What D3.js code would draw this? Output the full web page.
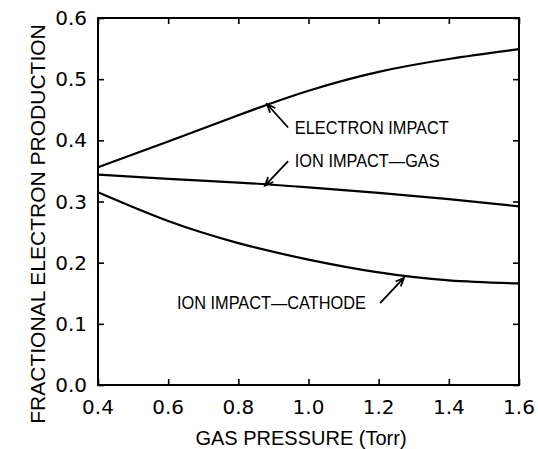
<!DOCTYPE html>
<html>
<head>
<meta charset="utf-8">
<script src="https://cdn.jsdelivr.net/npm/d3@7"></script>
<style>
  body { margin: 0; background: #fff; }
</style>
</head>
<body>
<script>
var width = 538, height = 449;

// values
var pressure = [0.4, 0.6, 0.8, 1.0, 1.2, 1.4, 1.6];
var electronImpact = [0.356, 0.398, 0.441, 0.481, 0.512, 0.533, 0.549];
var ionImpactGas = [0.344, 0.337, 0.331, 0.323, 0.314, 0.304, 0.292];
var ionImpactCathode = [0.315, 0.268, 0.232, 0.205, 0.184, 0.171, 0.166];

var xTicks = [0.4, 0.6, 0.8, 1.0, 1.2, 1.4, 1.6];
var yTicks = [0.0, 0.1, 0.2, 0.3, 0.4, 0.5, 0.6];

// annotation labels, label anchors and arrows (data units)
var labels = ["ELECTRON IMPACT", "ION IMPACT\u2014GAS", "ION IMPACT\u2014CATHODE"];
var labelPos = [[0.961, 0.41], [0.961, 0.357], [0.625, 0.125]];
var arrowTail = [[0.942, 0.421], [0.942, 0.366], [1.204, 0.134]];
var arrowTip = [[0.882, 0.459], [0.876, 0.326], [1.272, 0.175]];

var margin = {left: 98, right: 19, top: 18, bottom: 64};

var svg = d3.select("body")
            .append("svg")
            .attr("width", width)
            .attr("height", height);

var x = d3.scaleLinear()
          .domain([0.4, 1.6])
          .range([margin.left, width - margin.right]);

var y = d3.scaleLinear()
          .domain([0, 0.6])
          .range([height - margin.bottom, margin.top]);

var tickLen = 6;

// inward ticks on all four sides
svg.append("g")
   .attr("transform", "translate(0," + y(0) + ")")
   .call(d3.axisBottom(x).tickValues(xTicks).tickSizeInner(-tickLen).tickSizeOuter(0).tickFormat(""))
   .call(function(g) { g.select(".domain").remove(); });

svg.append("g")
   .attr("transform", "translate(0," + y(0.6) + ")")
   .call(d3.axisTop(x).tickValues(xTicks).tickSizeInner(-tickLen).tickSizeOuter(0).tickFormat(""))
   .call(function(g) { g.select(".domain").remove(); });

svg.append("g")
   .attr("transform", "translate(" + x(0.4) + ",0)")
   .call(d3.axisLeft(y).tickValues(yTicks).tickSizeInner(-tickLen).tickSizeOuter(0).tickFormat(""))
   .call(function(g) { g.select(".domain").remove(); });

svg.append("g")
   .attr("transform", "translate(" + x(1.6) + ",0)")
   .call(d3.axisRight(y).tickValues(yTicks).tickSizeInner(-tickLen).tickSizeOuter(0).tickFormat(""))
   .call(function(g) { g.select(".domain").remove(); });

svg.selectAll(".tick line")
   .attr("stroke", "#000")
   .attr("stroke-width", 1.6);

// frame
svg.append("rect")
   .attr("x", x(0.4))
   .attr("y", y(0.6))
   .attr("width", x(1.6) - x(0.4))
   .attr("height", y(0) - y(0.6))
   .attr("fill", "none")
   .attr("stroke", "#000")
   .attr("stroke-width", 2);

// tick labels
svg.append("g")
   .selectAll("text")
   .data(xTicks)
   .enter()
   .append("text")
   .attr("x", function(d) { return x(d); })
   .attr("y", y(0) + 29)
   .attr("text-anchor", "middle")
   .attr("font-family", "DejaVu Sans, sans-serif")
   .attr("font-size", 20)
   .text(function(d) { return d.toFixed(1); });

svg.append("g")
   .selectAll("text")
   .data(yTicks)
   .enter()
   .append("text")
   .attr("x", x(0.4) - 11)
   .attr("y", function(d) { return y(d) + 7; })
   .attr("text-anchor", "end")
   .attr("font-family", "DejaVu Sans, sans-serif")
   .attr("font-size", 20)
   .text(function(d) { return d.toFixed(1); });

// axis titles
svg.append("text")
   .attr("x", 301)
   .attr("y", 445)
   .attr("text-anchor", "middle")
   .attr("font-family", "Liberation Sans, Arial, sans-serif")
   .attr("font-size", 20)
   .text("GAS PRESSURE (Torr)");

svg.append("text")
   .attr("transform", "translate(45,224) rotate(-90)")
   .attr("text-anchor", "middle")
   .attr("font-family", "Liberation Sans, Arial, sans-serif")
   .attr("font-size", 21)
   .text("FRACTIONAL ELECTRON PRODUCTION");

// curves
var line = d3.line()
             .x(function(d, i) { return x(pressure[i]); })
             .y(function(d) { return y(d); })
             .curve(d3.curveNatural);

[electronImpact, ionImpactGas, ionImpactCathode].forEach(function(series) {
  svg.append("path")
     .attr("d", line(series))
     .attr("fill", "none")
     .attr("stroke", "#000")
     .attr("stroke-width", 2.2);
});

// annotations, condensed lettering like the original
svg.append("g")
   .selectAll("text")
   .data(labels)
   .enter()
   .append("text")
   .attr("transform", function(d, i) {
     return "translate(" + x(labelPos[i][0]) + "," + y(labelPos[i][1]) + ") scale(0.86,1)";
   })
   .attr("font-family", "Liberation Sans, Arial, sans-serif")
   .attr("font-size", 19)
   .text(function(d) { return d; });

labels.forEach(function(d, i) {
  var x1 = x(arrowTail[i][0]), y1 = y(arrowTail[i][1]),
      x2 = x(arrowTip[i][0]), y2 = y(arrowTip[i][1]);
  var ang = Math.atan2(y2 - y1, x2 - x1), head = 9, spread = 0.4;
  svg.append("path")
     .attr("d", "M" + x1 + "," + y1 + "L" + x2 + "," + y2 +
                "M" + (x2 - head * Math.cos(ang - spread)) + "," + (y2 - head * Math.sin(ang - spread)) +
                "L" + x2 + "," + y2 +
                "L" + (x2 - head * Math.cos(ang + spread)) + "," + (y2 - head * Math.sin(ang + spread)))
     .attr("fill", "none")
     .attr("stroke", "#000")
     .attr("stroke-width", 1.8);
});
</script>
</body>
</html>
